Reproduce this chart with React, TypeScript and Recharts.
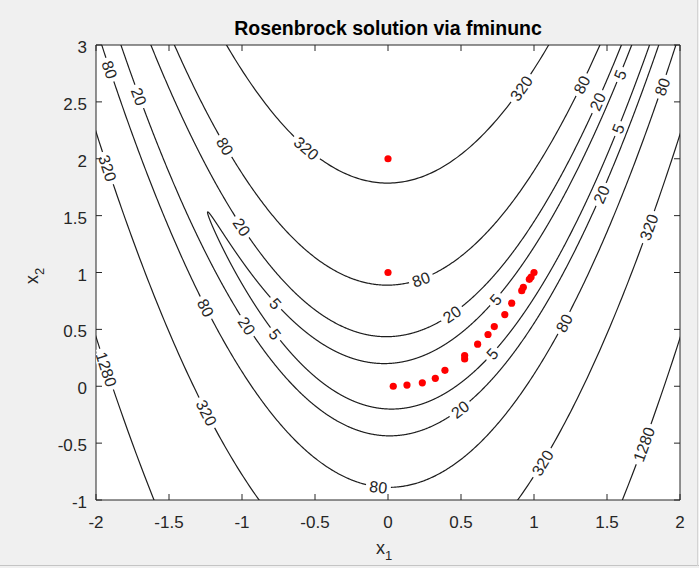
import { ComposedChart, Line, Scatter, XAxis, YAxis, ReferenceArea } from 'recharts';

document.body.style.margin = '0';

// contour levels of the Rosenbrock function
const levels = [5, 20, 80, 320, 1280];
const xTicks = [-2, -1.5, -1, -0.5, 0, 0.5, 1, 1.5, 2];
const yTicks = [-1, -0.5, 0, 0.5, 1, 1.5, 2, 2.5, 3];

// red dots: start points and fminunc iterates
const startPoints = [
  { x: 0, y: 2 },
  { x: 0, y: 1 },
];
const pathPoints = [
  { x: 0.036, y: 0.0 },
  { x: 0.13, y: 0.01 },
  { x: 0.235, y: 0.03 },
  { x: 0.324, y: 0.07 },
  { x: 0.39, y: 0.14 },
  { x: 0.525, y: 0.24 },
  { x: 0.525, y: 0.27 },
  { x: 0.614, y: 0.37 },
  { x: 0.685, y: 0.455 },
  { x: 0.728, y: 0.525 },
  { x: 0.8, y: 0.63 },
  { x: 0.847, y: 0.73 },
  { x: 0.916, y: 0.84 },
  { x: 0.927, y: 0.87 },
  { x: 0.968, y: 0.94 },
  { x: 0.98, y: 0.96 },
  { x: 1.0, y: 1.0 },
];

// inline contour labels (approximate spots)
const labelSpots = [
  { x: -1.92, y: 2.78, level: 80 },
  { x: -1.73, y: 2.54, level: 20 },
  { x: -1.95, y: 1.91, level: 320 },
  { x: -1.14, y: 2.1, level: 80 },
  { x: -0.55, y: 2.1, level: 320 },
  { x: 0.93, y: 2.61, level: 320 },
  { x: 1.33, y: 2.65, level: 80 },
  { x: 1.44, y: 2.5, level: 20 },
  { x: 1.59, y: 2.74, level: 5 },
  { x: 1.59, y: 2.26, level: 5 },
  { x: 1.89, y: 2.63, level: 80 },
  { x: 1.45, y: 1.69, level: 20 },
  { x: 1.78, y: 1.4, level: 320 },
  { x: -1.02, y: 1.39, level: 20 },
  { x: 0.22, y: 0.955, level: 80 },
  { x: 0.74, y: 0.76, level: 5 },
  { x: 0.45, y: 0.62, level: 20 },
  { x: -1.25, y: 0.69, level: 80 },
  { x: -0.78, y: 0.72, level: 5 },
  { x: -0.99, y: 0.52, level: 20 },
  { x: -0.77, y: 0.46, level: 5 },
  { x: 0.72, y: 0.28, level: 5 },
  { x: 1.22, y: 0.55, level: 80 },
  { x: -1.89, y: 0.16, level: 1280 },
  { x: -1.26, y: -0.24, level: 320 },
  { x: 0.49, y: -0.2, level: 20 },
  { x: 1.05, y: -0.67, level: 320 },
  { x: 1.75, y: -0.51, level: 1280 },
  { x: -0.07, y: -0.91, level: 80 },
];

const W = 699;
const H = 568;
const PLOT = { left: 96, right: 680, top: 45, bottom: 500 };
const KX = (PLOT.right - PLOT.left) / 4;
const KY = (PLOT.bottom - PLOT.top) / 4;
const AXIS = '#262626';
const FONT = '"Liberation Sans", Arial, Helvetica, sans-serif';

const rosen = (x: number, y: number) => 100 * (y - x * x) ** 2 + (1 - x) ** 2;
const grad = (x: number, y: number) => [-400 * x * (y - x * x) - 2 * (1 - x), 200 * (y - x * x)];

// trace each level set: (1-x)^2 + 100(y-x^2)^2 = c, split into visible pieces
function contourSegments(c: number) {
  const r = Math.sqrt(c);
  const n = 8000;
  const segs: { x: number; y: number }[][] = [];
  let cur: { x: number; y: number }[] = [];
  for (let i = 0; i <= n; i++) {
    const t = Math.PI + (2 * Math.PI * i) / n;
    const x = 1 - r * Math.cos(t);
    const y = x * x + (r * Math.sin(t)) / 10;
    if (x > -2.3 && x < 2.3 && y > -1.6 && y < 3.6) {
      cur.push({ x, y });
    } else if (cur.length) {
      segs.push(cur);
      cur = [];
    }
  }
  if (cur.length) segs.push(cur);
  return segs.filter((s) => s.length > 1);
}

const contours = levels.flatMap((c) => contourSegments(c).map((seg, i) => ({ key: `${c}-${i}`, seg })));

// pull the label spots exactly onto their contour
const labels = labelSpots.map((p) => {
  let { x, y } = p;
  for (let i = 0; i < 30; i++) {
    const [gx, gy] = grad(x, y);
    const g2 = gx * gx + gy * gy;
    const e = rosen(x, y) - p.level;
    x -= (e * gx) / g2;
    y -= (e * gy) / g2;
  }
  return { x, y, level: p.level };
});

const XTick = (props: any) => {
  const { x, payload } = props;
  return (
    <g>
      <line x1={x} x2={x} y1={PLOT.bottom} y2={PLOT.bottom - 6} stroke={AXIS} />
      <line x1={x} x2={x} y1={PLOT.top} y2={PLOT.top + 6} stroke={AXIS} />
      <text x={x} y={PLOT.bottom + 28} textAnchor="middle" fontSize={17} fontFamily={FONT} fill={AXIS}>
        {payload.value}
      </text>
    </g>
  );
};

const YTick = (props: any) => {
  const { y, payload } = props;
  return (
    <g>
      <line x1={PLOT.left} x2={PLOT.left + 6} y1={y} y2={y} stroke={AXIS} />
      <line x1={PLOT.right} x2={PLOT.right - 6} y1={y} y2={y} stroke={AXIS} />
      <text x={PLOT.left - 9} y={y + 8} textAnchor="end" fontSize={17} fontFamily={FONT} fill={AXIS}>
        {payload.value}
      </text>
    </g>
  );
};

const ContourLabel = (props: any) => {
  const { cx, cy } = props;
  const p = props.payload ?? props;
  const [gx, gy] = grad(p.x, p.y);
  let ang = (Math.atan2(gx * KY, gy * KX) * 180) / Math.PI;
  if (ang > 90) ang -= 180;
  if (ang < -90) ang += 180;
  const txt = String(p.level);
  const w = txt.length * 9 + 7;
  return (
    <g transform={`translate(${cx},${cy}) rotate(${ang})`}>
      <rect x={-w / 2} y={-4} width={w} height={8} fill="#fff" />
      <text
        x={0}
        y={6}
        textAnchor="middle"
        fontSize={16}
        fontFamily={FONT}
        fill={AXIS}
        stroke="#fff"
        strokeWidth={3}
        paintOrder="stroke"
      >
        {txt}
      </text>
    </g>
  );
};

const RedDot = (props: any) => <circle cx={props.cx} cy={props.cy} r={3.6} fill="#ff0000" />;

export default function App() {
  return (
    <div style={{ position: 'absolute', left: 0, top: 0, width: W, height: H, background: '#f0f0f0', fontFamily: FONT }}>
      <ComposedChart width={W} height={H} margin={{ top: PLOT.top, right: W - PLOT.right, bottom: 0, left: 0 }}>
        <ReferenceArea x1={-2} x2={2} y1={-1} y2={3} fill="#ffffff" fillOpacity={1} stroke="none" />
        <XAxis
          type="number"
          dataKey="x"
          domain={[-2, 2]}
          ticks={xTicks}
          allowDataOverflow
          height={H - PLOT.bottom}
          tickSize={0}
          axisLine={false}
          tick={<XTick />}
          interval={0}
        />
        <YAxis
          type="number"
          dataKey="y"
          domain={[-1, 3]}
          ticks={yTicks}
          allowDataOverflow
          width={PLOT.left}
          tickSize={0}
          axisLine={false}
          tick={<YTick />}
          interval={0}
        />
        {contours.map((c) => (
          <Line
            key={c.key}
            data={c.seg}
            dataKey="y"
            type="linear"
            dot={false}
            activeDot={false}
            stroke="#1e1e1e"
            strokeWidth={1.2}
            isAnimationActive={false}
          />
        ))}
        <Scatter data={labels} shape={<ContourLabel />} isAnimationActive={false} />
        <Scatter data={startPoints} shape={<RedDot />} isAnimationActive={false} />
        <Scatter data={pathPoints} shape={<RedDot />} isAnimationActive={false} />
        <ReferenceArea x1={-2} x2={2} y1={-1} y2={3} fill="none" stroke={AXIS} strokeWidth={1} />
      </ComposedChart>
      <svg width={W} height={H} style={{ position: 'absolute', left: 0, top: 0, pointerEvents: 'none' }}>
        <text x={388} y={35} textAnchor="middle" fontSize={19.5} fontWeight="bold" fontFamily={FONT} fill="#000">
          Rosenbrock solution via fminunc
        </text>
        <text x={376} y={554} fontSize={18} fontFamily={FONT} fill={AXIS}>
          x<tspan dy={6} fontSize={13}>1</tspan>
        </text>
        <text transform="translate(38,284) rotate(-90)" fontSize={18} fontFamily={FONT} fill={AXIS}>
          x<tspan dy={6} fontSize={13}>2</tspan>
        </text>
        <line x1={0} x2={W} y1={H - 2.5} y2={H - 2.5} stroke="#c4c4c4" strokeWidth={1} />
        <line x1={W - 1.5} x2={W - 1.5} y1={0} y2={H - 2} stroke="#d4d4d4" strokeWidth={1} />
      </svg>
    </div>
  );
}
